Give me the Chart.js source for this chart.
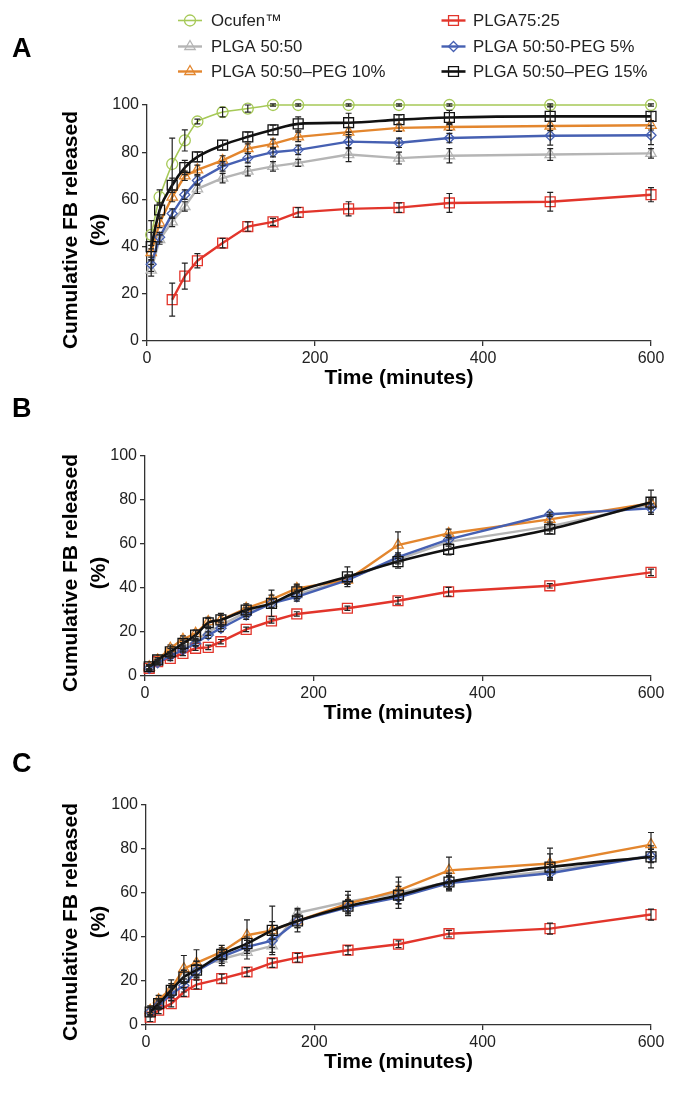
<!DOCTYPE html>
<html><head><meta charset="utf-8">
<script src="https://cdn.jsdelivr.net/npm/chart.js@4.4.1/dist/chart.umd.min.js"></script>
<style>
html,body{margin:0;padding:0;background:#fff;}
#wrap{position:relative;width:677px;height:1094px;overflow:hidden;font-family:"Liberation Sans",Arial,sans-serif;}
canvas{position:absolute;left:0;}
.lbl{position:absolute;left:12px;font-weight:bold;font-size:27px;line-height:27px;color:#000;}
</style></head><body>
<div id="wrap">
<canvas id="cA" width="677" height="395" style="top:0px"></canvas>
<canvas id="cB" width="677" height="335" style="top:395px"></canvas>
<canvas id="cC" width="677" height="349" style="top:730px"></canvas>
<div class="lbl" style="top:35px">A</div>
<div class="lbl" style="top:395px">B</div>
<div class="lbl" style="top:750px">C</div>
</div>
<script>
// ---------- names / labels ----------
const seriesNames = ['Ocufen™','PLGA 50:50','PLGA 50:50–PEG 10%','PLGA75:25','PLGA 50:50-PEG 5%','PLGA 50:50–PEG 15%'];
const xTitle = 'Time (minutes)';
const yTitleLines = ['Cumulative FB released','(%)'];
const yTicks = [0,20,40,60,80,100];
const xTicks = [0,200,400,600];

// ---------- Panel A ----------
const timesA = [5,15,30,45,60,90,120,150,180,240,300,360,480,600];
const aOcufen = [45,61,75,85,93,97,98.5,100,100,100,100,100,100,100];
const aOcufenErr = [6,3,11,4.5,1,2,1.5,0.5,0.5,0.5,0.5,0.5,0.5,0.5];
const aPlga5050 = [30,43,50.5,57,64.5,69,72,74,75.5,79,77.5,78.5,79,79.5];
const aPlga5050Err = [2.5,2,2,2,2,2,2,2,1.5,3,2.5,3,2.5,2];
const aPeg10 = [37.5,50,61,70,72.5,76.5,81.5,83.5,86.5,88.5,90.3,90.7,91.1,91.4];
const aPeg10Err = [3,2,2,2,2,2,2,2,2,2,1.5,1.5,2,2];
const aPlga7525 = [null,null,17.5,27.5,34,41.5,48.5,50.5,54.5,56,56.5,58.5,59,62];
const aPlga7525Err = [null,null,7,5.5,3,2,2,1.5,2,3,2,4,4,3];
const aPeg5 = [32.5,44,54,62,68,74,77.5,80,81,84.5,84,86,87,87.2];
const aPeg5Err = [3,2,2,2,2,2,2,2,2,3,2,2,4,4];
const aPeg15 = [40,55.5,66,73.5,78,83,86.5,89.5,92,92.5,93.8,94.7,95.2,95.2];
const aPeg15Err = [6,3,3,3,2,2,2,2,3,4,2,3,4,2];

// ---------- Panel B ----------
const timesB = [5,15,30,45,60,75,90,120,150,180,240,300,360,480,600];
const bPlga5050 = [4,6.5,10,13,16,20,23,29,33,37,44,53,61,68,78];
const bPlga5050Err = [1,1,1,1,1,1.5,1.5,2,2,2,2,2,2,2,2];
const bPeg10 = [4.2,7.3,12.6,16.7,19.4,24.7,25.5,30.8,34.8,39.8,43.6,59.5,64.8,71.2,78.5];
const bPeg10Err = [1,1,1.5,1.5,1.5,2,3,2,2,2,2,6,2,2,2];
const bPlga7525 = [3.5,6.5,8,10.3,12.6,13,15.6,21.2,25,28.2,30.8,34.2,38.3,41,47.1];
const bPlga7525Err = [1,1,1,1,1,1,1,1,1,1,1,1.5,2,1,1.5];
const bPeg5 = [3.5,6,9.1,11.8,14.8,18.6,21.7,27.7,33,36,43.6,54,62.1,73.5,76.2];
const bPeg5Err = [1,1,1,1,1,1.5,1.5,2,2,2,2,2,2,1,2];
const bPeg15 = [4.2,7.3,11,14.8,18.6,24.2,25.5,30,33,38.3,45.1,52,57.6,66.7,79];
const bPeg15Err = [1,1,1.5,1.5,2,2,2,2,6,3,4.5,3,2.5,2,5.5];

// ---------- Panel C ----------
const timesC = [5,15,30,45,60,90,120,150,180,240,300,360,480,600];
const cPlga5050 = [6,10,15.5,22,26,30,33,36,51,56,60,65,70,77];
const cPlga5050Err = [2,2,2,3,3,3,3,3,2,3,3,3,3,3];
const cPeg10 = [6.7,11.5,16.5,25.6,28.2,33.2,40.8,43,47.3,55.2,61.2,70.3,73.4,82];
const cPeg10Err = [2,2,4,6,6,3,7,11,5,5.5,6,6,7,5.5];
const cPlga7525 = [3.6,6.7,9.7,15,18.4,21.1,24.1,28.2,30.6,34,36.7,41.5,43.8,50.2];
const cPlga7525Err = [2,1.5,1.5,2,2,2,2,2,2,2,1.5,1.5,2.5,2.5];
const cPeg5 = [6,9,14,18,24.5,31,35.5,38.3,47.3,53.5,58,64.5,69,76.8];
const cPeg5Err = [2,2,3,3,3,3,3,3,3,3,3,3,3,3];
const cPeg15 = [5.9,9.7,15.8,21.8,24.9,32.1,37,43,47.3,54,59,65,71.8,76.4];
const cPeg15Err = [2,2,3,3,4,3,3,4,3,3,6,4,6,5];

// ---------- styles ----------
const FONT = "'Liberation Sans', Arial, sans-serif";
Chart.defaults.font.family = FONT;
Chart.defaults.color = '#222';
const styles = [
  {color:'#a6c957', pointStyle:'circle',   radius:5.5, lineWidth:1.6, order:5, tension:0.15},
  {color:'#b5b5b5', pointStyle:'triangle', radius:6,   lineWidth:2.4, order:4, tension:0},
  {color:'#e3862e', pointStyle:'triangle', radius:6,   lineWidth:2.4, order:2, tension:0},
  {color:'#e2352b', pointStyle:'rect',     radius:7,   lineWidth:2.4, order:3, tension:0},
  {color:'#4660b2', pointStyle:'rectRot',  radius:5,   lineWidth:2.4, order:1, tension:0},
  {color:'#111111', pointStyle:'rect',     radius:7,   lineWidth:2.6, order:0, tension:0.35}
];

function makeDataset(idx, times, vals, errs){
  const s = styles[idx];
  return {
    label: seriesNames[idx],
    data: times.map((t,i)=>({x:t, y:vals[i]})),
    errors: errs,
    borderColor: s.color,
    backgroundColor: 'rgba(0,0,0,0)',
    borderWidth: s.lineWidth,
    pointStyle: s.pointStyle,
    pointRadius: s.radius,
    pointBorderWidth: 1.3,
    pointBorderColor: s.color,
    pointBackgroundColor: 'rgba(0,0,0,0)',
    tension: s.tension,
    cubicInterpolationMode: idx===5 ? 'monotone' : 'default',
    order: s.order,
    clip: false,
    spanGaps: false
  };
}

// ---------- plugins ----------
const errorBars = {
  id:'errorBars',
  afterDatasetsDraw(chart){
    const ctx = chart.ctx, ys = chart.scales.y;
    ctx.save();
    ctx.strokeStyle = '#222'; ctx.lineWidth = 1.2;
    chart.data.datasets.forEach((ds,di)=>{
      if(!ds.errors) return;
      const meta = chart.getDatasetMeta(di);
      meta.data.forEach((pt,i)=>{
        const v = ds.data[i].y, e = ds.errors[i];
        if(v==null || e==null) return;
        const x = pt.x, top = ys.getPixelForValue(v+e), bot = ys.getPixelForValue(v-e);
        ctx.beginPath();
        ctx.moveTo(x, top); ctx.lineTo(x, bot);
        ctx.moveTo(x-3, top); ctx.lineTo(x+3, top);
        ctx.moveTo(x-3, bot); ctx.lineTo(x+3, bot);
        ctx.stroke();
      });
    });
    ctx.restore();
  }
};

const yTitlePlugin = {
  id:'yTitle',
  afterDraw(chart, args, opts){
    const ctx = chart.ctx, ca = chart.chartArea;
    const cy = (ca.top + ca.bottom)/2 + opts.shift;
    ctx.save();
    ctx.font = 'bold 21px ' + FONT;
    ctx.fillStyle = '#000'; ctx.textAlign = 'center'; ctx.textBaseline = 'middle';
    yTitleLines.forEach((ln,i)=>{
      ctx.save(); ctx.translate(opts.xs[i], cy); ctx.rotate(-Math.PI/2);
      ctx.fillText(ln, 0, 0); ctx.restore();
    });
    ctx.restore();
  }
};

const legendLayout = [
  {x:190, tx:211, y:20.5}, {x:190, tx:211, y:46.5}, {x:190, tx:211, y:71.5},
  {x:453.5, tx:473, y:20.5}, {x:453.5, tx:473, y:46.5}, {x:453.5, tx:473, y:71.5}
];
const legendPlugin = {
  id:'customLegend',
  afterDraw(chart, args, opts){
    if(!opts.show) return;
    const ctx = chart.ctx;
    ctx.save();
    chart.data.datasets.forEach((ds, i)=>{
      const idx = seriesNames.indexOf(ds.label);
      const p = legendLayout[idx], s = styles[idx];
      ctx.strokeStyle = s.color; ctx.lineWidth = s.lineWidth;
      ctx.beginPath(); ctx.moveTo(p.x-12, p.y); ctx.lineTo(p.x+12, p.y); ctx.stroke();
      ctx.lineWidth = 1.3; ctx.fillStyle = 'rgba(0,0,0,0)';
      Chart.helpers.drawPoint(ctx, {pointStyle:s.pointStyle, radius:s.radius, rotation:0, borderWidth:1.3}, p.x, p.y);
      ctx.fillStyle = '#222'; ctx.font = '16.8px ' + FONT;
      ctx.textAlign = 'left'; ctx.textBaseline = 'middle';
      ctx.fillText(ds.label, p.tx, p.y + 1);
    });
    ctx.restore();
  }
};

function makeChart(id, datasets, cfg){
  const axisColor = '#333';
  return new Chart(document.getElementById(id), {
    type:'line',
    data:{datasets},
    options:{
      responsive:false, animation:false, devicePixelRatio:1,
      layout:{padding:{top:cfg.padTop, right:26, left:0, bottom:0}},
      plugins:{
        legend:{display:false}, tooltip:{enabled:false},
        yTitle:{xs:cfg.titleXs, shift:7},
        customLegend:{show:!!cfg.legend}
      },
      scales:{
        x:{
          type:'linear', min:0, max:600,
          afterBuildTicks:(s)=>{ s.ticks = xTicks.map(v=>({value:v})); },
          ticks:{color:'#222', font:{size:16}, padding:3, maxRotation:0},
          grid:{drawOnChartArea:false, drawTicks:true, tickLength:5, color:axisColor, lineWidth:1.3},
          border:{display:true, color:axisColor, width:1.3},
          title:{display:true, text:xTitle, color:'#000', font:{size:21, weight:'bold'}, padding:{top:0, bottom:4}},
          afterFit:(s)=>{ s.height = 54; }
        },
        y:{
          type:'linear', min:0, max:100,
          afterBuildTicks:(s)=>{ s.ticks = yTicks.map(v=>({value:v})); },
          ticks:{color:'#222', font:{size:16}, padding:3},
          grid:{drawOnChartArea:false, drawTicks:true, tickLength:5, color:axisColor, lineWidth:1.3},
          border:{display:true, color:axisColor, width:1.3},
          afterFit:(s)=>{ s.width = cfg.axisLeft; }
        }
      }
    },
    plugins:[errorBars, yTitlePlugin, legendPlugin]
  });
}

makeChart('cA', [
  makeDataset(0, timesA, aOcufen, aOcufenErr),
  makeDataset(1, timesA, aPlga5050, aPlga5050Err),
  makeDataset(2, timesA, aPeg10, aPeg10Err),
  makeDataset(3, timesA, aPlga7525, aPlga7525Err),
  makeDataset(4, timesA, aPeg5, aPeg5Err),
  makeDataset(5, timesA, aPeg15, aPeg15Err)
], {padTop:105, axisLeft:147, titleXs:[71.5,99], legend:true});

makeChart('cB', [
  makeDataset(1, timesB, bPlga5050, bPlga5050Err),
  makeDataset(2, timesB, bPeg10, bPeg10Err),
  makeDataset(3, timesB, bPlga7525, bPlga7525Err),
  makeDataset(4, timesB, bPeg5, bPeg5Err),
  makeDataset(5, timesB, bPeg15, bPeg15Err)
], {padTop:61, axisLeft:145, titleXs:[71.5,99], legend:false});

makeChart('cC', [
  makeDataset(1, timesC, cPlga5050, cPlga5050Err),
  makeDataset(2, timesC, cPeg10, cPeg10Err),
  makeDataset(3, timesC, cPlga7525, cPlga7525Err),
  makeDataset(4, timesC, cPeg5, cPeg5Err),
  makeDataset(5, timesC, cPeg15, cPeg15Err)
], {padTop:75, axisLeft:146, titleXs:[71,99], legend:false});
</script>
</body></html>
